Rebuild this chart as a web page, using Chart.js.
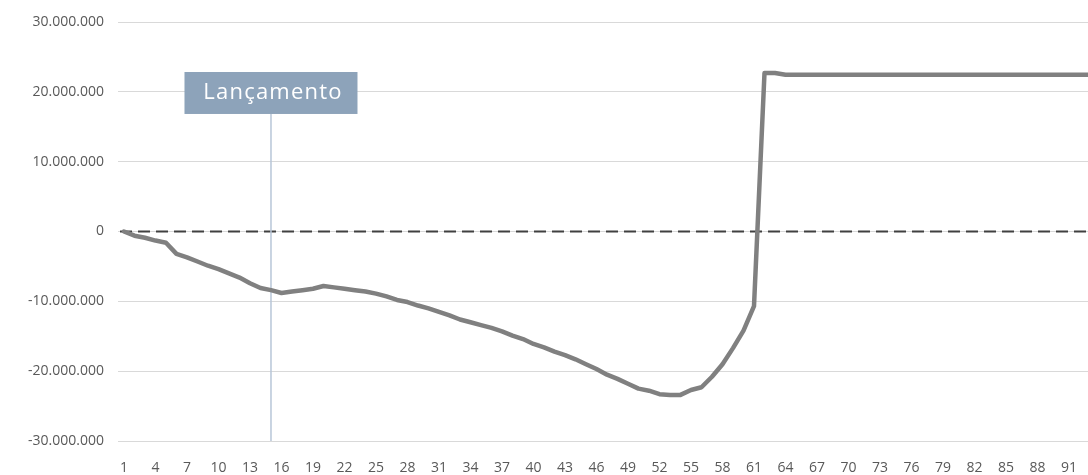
<!DOCTYPE html>
<html>
<head>
<meta charset="utf-8">
<script src="https://cdn.jsdelivr.net/npm/chart.js@4.4.1/dist/chart.umd.min.js"></script>
<style>
  html, body { margin: 0; padding: 0; background: #ffffff; overflow: hidden; }
</style>
</head>
<body>
<canvas id="chart" width="1088" height="475"></canvas>
<script>
// Months of the project timeline
const months = Array.from({ length: 94 }, (_, i) => i + 1);

// Accumulated cash balance per month (R$)
const saldoAcumulado = [
  0, -600000, -900000, -1300000, -1600000, -3200000, -3700000, -4300000, -4900000, -5400000,
  -6000000, -6600000, -7400000, -8100000, -8400000, -8800000, -8600000, -8400000, -8200000, -7800000,
  -8000000, -8200000, -8400000, -8600000, -8900000, -9300000, -9800000, -10100000, -10600000, -11000000,
  -11500000, -12000000, -12600000, -13000000, -13400000, -13800000, -14300000, -14900000, -15400000, -16100000,
  -16600000, -17200000, -17700000, -18300000, -19000000, -19700000, -20500000, -21100000, -21800000, -22500000,
  -22800000, -23300000, -23400000, -23400000, -22700000, -22300000, -20800000, -19000000, -16700000, -14200000,
  -10700000, 22700000, 22700000, 22450000, 22450000, 22450000, 22450000, 22450000, 22450000, 22450000,
  22450000, 22450000, 22450000, 22450000, 22450000, 22450000, 22450000, 22450000, 22450000, 22450000,
  22450000, 22450000, 22450000, 22450000, 22450000, 22450000, 22450000, 22450000, 22450000, 22450000,
  22450000, 22450000, 22450000, 22450000
];

// Y axis range and tick step
const yMin = -30000000;
const yMax = 30000000;
const yStep = 10000000;

// Visible month window
const xMin = 0.43;
const xMax = 92.81;

// Month labels shown on the horizontal axis (every third month)
const monthTicks = months.filter((m, i) => i % 3 === 0 && m <= xMax);

// Launch marker
const launchMonth = 15;
const launchLabel = 'Lançamento';

function formatBR(v) {
  const s = Math.abs(v).toFixed(0).replace(/\B(?=(\d{3})+(?!\d))/g, '.');
  return (v < 0 ? '-' : '') + s;
}

const decorations = {
  id: 'decorations',
  beforeDatasetsDraw(chart) {
    const { ctx, chartArea, scales } = chart;
    // dashed zero line
    const y0 = scales.y.getPixelForValue(0);
    ctx.save();
    ctx.strokeStyle = '#404040';
    ctx.lineWidth = 2;
    ctx.setLineDash([12, 6]);
    ctx.beginPath();
    ctx.moveTo(chartArea.left + 2, y0);
    ctx.lineTo(chartArea.right, y0);
    ctx.stroke();
    ctx.restore();

    // launch vertical line
    const x = scales.x.getPixelForValue(launchMonth);
    const boxBottom = scales.y.getPixelForValue(16830000);
    ctx.save();
    ctx.strokeStyle = '#b7c6d8';
    ctx.lineWidth = 1.5;
    ctx.beginPath();
    ctx.moveTo(x, boxBottom);
    ctx.lineTo(x, chartArea.bottom);
    ctx.stroke();
    ctx.restore();
  },
  afterDatasetsDraw(chart) {
    const { ctx, scales } = chart;
    const x = scales.x.getPixelForValue(launchMonth);
    const top = scales.y.getPixelForValue(22840000);
    const bottom = scales.y.getPixelForValue(16830000);
    const w = 173;
    ctx.save();
    ctx.fillStyle = '#8da3ba';
    ctx.fillRect(x - w / 2, top, w, bottom - top);
    ctx.fillStyle = '#ffffff';
    ctx.font = '22px "Open Sans"';
    if ('letterSpacing' in ctx) ctx.letterSpacing = '1.2px';
    ctx.textAlign = 'center';
    ctx.textBaseline = 'middle';
    ctx.fillText(launchLabel, x + 2, (top + bottom) / 2);
    ctx.restore();
  }
};

new Chart(document.getElementById('chart'), {
  type: 'line',
  data: {
    datasets: [
      {
        label: 'Saldo acumulado',
        data: months.map((m, i) => ({ x: m, y: saldoAcumulado[i] })),
        borderColor: '#808080',
        borderWidth: 4.5,
        borderJoinStyle: 'round',
        borderCapStyle: 'round',
        pointRadius: 0,
        tension: 0
      }
    ]
  },
  options: {
    responsive: false,
    animation: false,
    devicePixelRatio: 1,
    layout: { padding: { top: 22, right: 0, bottom: 0, left: 0 } },
    plugins: {
      legend: { display: false },
      tooltip: { enabled: false }
    },
    scales: {
      x: {
        type: 'linear',
        min: xMin,
        max: xMax,
        grid: { display: false, drawTicks: false },
        border: { display: false },
        afterBuildTicks(scale) {
          scale.ticks = monthTicks.map(v => ({ value: v }));
        },
        ticks: {
          autoSkip: false,
          maxRotation: 0,
          padding: 19,
          color: '#595959',
          font: { family: '"Open Sans"', size: 14 },
          callback(value) { return String(value); }
        },
        afterFit(scale) {
          scale.height = 34;
          scale.paddingLeft = 0;
          scale.paddingRight = 0;
        }
      },
      y: {
        min: yMin,
        max: yMax,
        grid: { color: '#d9d9d9', lineWidth: 1, drawTicks: false },
        border: { display: false },
        ticks: {
          stepSize: yStep,
          padding: 14,
          color: '#595959',
          font: { family: '"Open Sans"', size: 14 },
          callback(value) { return formatBR(value); }
        },
        afterFit(scale) {
          scale.width = 118;
          scale.paddingTop = 0;
          scale.paddingBottom = 0;
        }
      }
    }
  },
  plugins: [decorations]
});
</script>
</body>
</html>
